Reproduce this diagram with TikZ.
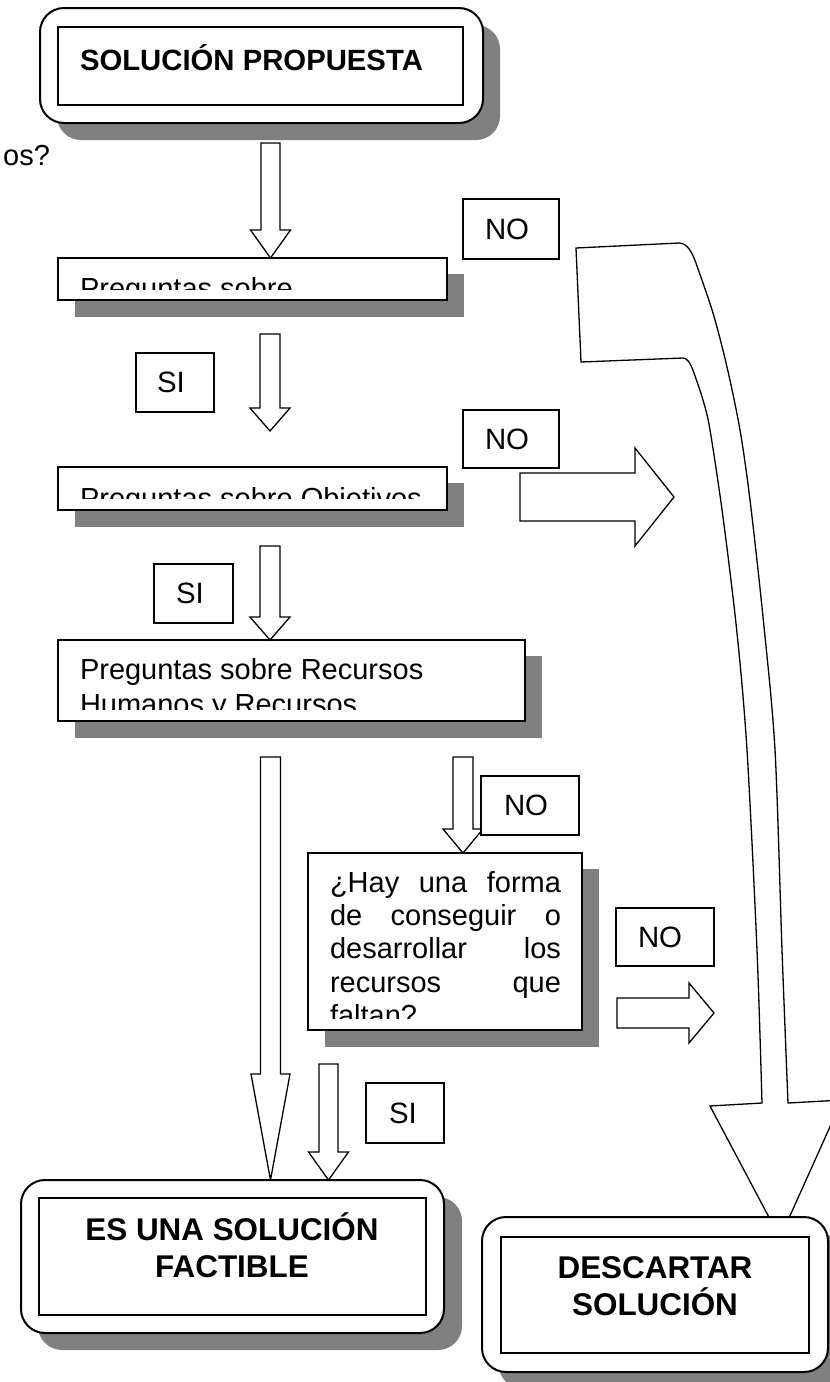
\documentclass[tikz,border=0pt]{standalone}
\usepackage{fontspec}
\setmainfont{Liberation Sans}
\usetikzlibrary{calc,backgrounds}
\definecolor{shadowgray}{HTML}{808080}
\tikzset{
  every node/.style={inner sep=0pt, outer sep=0pt},
  qbox/.style={draw=black, line width=1pt, fill=white, anchor=north west},
  lblbox/.style={draw=black, line width=0.8pt, fill=white, anchor=north west},
  outerbox/.style={draw=black, line width=1pt, fill=white, rounded corners=12pt, anchor=north west},
  innerbox/.style={draw=black, line width=1.2pt, anchor=north west},
  blockarrow/.style={draw=black, line width=0.65pt, fill=white, line join=miter},
  shadowfill/.style={fill=shadowgray},
  rtxt/.style={font=\fontsize{14.5}{16.7}\selectfont, anchor=base west},
  lbltxt/.style={font=\fontsize{14.7}{17}\selectfont, anchor=west},
  btxt/.style={font=\bfseries\fontsize{15.7}{18.5}\selectfont, anchor=base},
}
% down block arrow: cx, shaft half, head half, ytop, ybase, ytip
\newcommand\dnblock[6]{%
  \draw[blockarrow] ({#1-#2},#4) -- ({#1+#2},#4) -- ({#1+#2},#5) -- ({#1+#3},#5)
    -- (#1,#6) -- ({#1-#3},#5) -- ({#1-#2},#5) -- cycle;}
% right block arrow: cy, shaft half, head half, xleft, xbase, xtip
\newcommand\rtblock[6]{%
  \draw[blockarrow] (#4,{#1-#2}) -- (#5,{#1-#2}) -- (#5,{#1-#3}) -- (#6,#1)
    -- (#5,{#1+#3}) -- (#5,{#1+#2}) -- (#4,{#1+#2}) -- cycle;}

\begin{document}
\begin{tikzpicture}[x=0.5pt,y=-0.5pt]
\useasboundingbox (0,0) rectangle (830,1382);
\clip (0,0) rectangle (830,1382);

% ---------- top box
\node[outerbox, minimum width=443*0.5pt, minimum height=115*0.5pt] (top) at (40,8) {};
\node[innerbox, minimum width=405*0.5pt, minimum height=78*0.5pt] (topin) at (58,27) {};
\node[font=\bfseries\fontsize{14.65}{17}\selectfont, anchor=base west] (toptxt) at (80,70) {SOLUCIÓN PROPUESTA};

\node[rtxt, anchor=base east] (frag) at (50,165) {os?};

% ---------- question boxes
\node[qbox, minimum width=389*0.5pt, minimum height=42*0.5pt] (q1) at (58,258) {};
\begin{scope}
  \clip (q1.north west) rectangle ($(q1.south east)+(0,-11)$);
  \node[rtxt] (q1t) at (80,298) {Preguntas sobre};
\end{scope}

\node[qbox, minimum width=389*0.5pt, minimum height=43*0.5pt] (q2) at (58,467) {};
\begin{scope}
  \clip (q2.north west) rectangle ($(q2.south east)+(0,-12)$);
  \node[rtxt] (q2t) at (80,508) {Preguntas sobre Objetivos};
\end{scope}

\node[qbox, minimum width=467*0.5pt, minimum height=81*0.5pt] (q3) at (58,640) {};
\begin{scope}
  \clip (q3.north west) rectangle ($(q3.south east)+(0,-12)$);
  \node[rtxt] (q3a) at (80,679) {Preguntas sobre Recursos};
  \node[rtxt] (q3b) at (80,714) {Humanos y Recursos};
\end{scope}

\node[qbox, minimum width=274*0.5pt, minimum height=177*0.5pt] (q4) at (308,853) {};
\begin{scope}
  \clip (q4.north west) rectangle ($(q4.south east)+(0,-12)$);
  \node[rtxt] (q4a) at (330,892) {\hbox to 115.5pt{¿Hay\hfill una\hfill forma}};
  \node[rtxt] (q4b) at (330,925) {\hbox to 115.5pt{de\hfill conseguir\hfill o}};
  \node[rtxt] (q4c) at (330,958) {\hbox to 115.5pt{desarrollar\hfill los}};
  \node[rtxt] (q4d) at (330,992) {\hbox to 115.5pt{recursos\hfill que}};
  \node[rtxt] (q4e) at (330,1025) {faltan?};
\end{scope}

% ---------- shadows
\begin{pgfonlayer}{background}
  \fill[shadowfill, rounded corners=12pt] ($(top.north west)+(17,17)$) rectangle ($(top.south east)+(17,17)$);
  \foreach \b in {q1,q2,q3,q4}{
    \fill[shadowfill] ($(\b.north west)+(17,16)$) rectangle ($(\b.south east)+(17,17)$);
  }
\end{pgfonlayer}

% ---------- down block arrows
\dnblock{270.5}{9.5}{20}{143}{230}{258}
\dnblock{270}{10}{20}{334}{408}{431}
\dnblock{270}{10}{20}{546}{617}{640}
\dnblock{270.5}{10}{19.5}{757}{1074}{1180}
\dnblock{463}{10}{20}{757}{829}{853}
\dnblock{328.5}{9.5}{20}{1064}{1152}{1180}

% ---------- right block arrows
\rtblock{497}{24}{49}{520}{635}{674}
\rtblock{1013}{15}{30}{617}{689}{714}

% ---------- big curved arrow
\draw[blockarrow] (576,248) -- (679,243)
  .. controls (688,243) and (693,254) .. (697,266)
  -- plot[smooth] coordinates {(697,266) (713,313) (727,367) (740,430) (750,500) (763,617) (775,750) (782,950) (788,1103)}
  -- (842,1100) -- (780,1238) -- (710,1106) -- (762,1103)
  -- plot[smooth] coordinates {(762,1103) (757,950) (747,750) (737,633) (723,517) (710,430) (703,400) (694,373)}
  .. controls (690,362) and (687,358) .. (683,358)
  -- (581,362) -- cycle;

% ---------- label boxes
\node[lblbox, minimum width=96*0.5pt, minimum height=60*0.5pt] (no1) at (463,199) {};
\node[lbltxt] (no1t) at ([xshift=11pt]no1.west) {NO};
\node[lblbox, minimum width=78*0.5pt, minimum height=59*0.5pt] (si1) at (136,353) {};
\node[lbltxt] (si1t) at ([xshift=10.5pt]si1.west) {SI};
\node[lblbox, minimum width=96*0.5pt, minimum height=58*0.5pt] (no2) at (463,410) {};
\node[lbltxt] (no2t) at ([xshift=11pt]no2.west) {NO};
\node[lblbox, minimum width=79*0.5pt, minimum height=59*0.5pt] (si2) at (154,564) {};
\node[lbltxt] (si2t) at ([xshift=11pt]si2.west) {SI};
\node[lblbox, minimum width=98*0.5pt, minimum height=59*0.5pt] (no3) at (481,776) {};
\node[lbltxt] (no3t) at ([xshift=11.5pt]no3.west) {NO};
\node[lblbox, minimum width=98*0.5pt, minimum height=58*0.5pt] (no4) at (616,908) {};
\node[lbltxt] (no4t) at ([xshift=11pt]no4.west) {NO};
\node[lblbox, minimum width=78*0.5pt, minimum height=60*0.5pt] (si3) at (366,1083) {};
\node[lbltxt] (si3t) at ([xshift=11.5pt]si3.west) {SI};

% ---------- final boxes
\fill[shadowfill, rounded corners=12pt] (38,1197) rectangle (462,1350);
\node[outerbox, minimum width=423*0.5pt, minimum height=153*0.5pt] (fact) at (21,1180) {};
\node[innerbox, minimum width=387*0.5pt, minimum height=117*0.5pt] (factin) at (39,1198) {};
\node[btxt] (fact1) at (232,1240) {ES UNA SOLUCIÓN};
\node[btxt] (fact2) at (232,1277) {FACTIBLE};

\fill[shadowfill, rounded corners=12pt] (499,1234) rectangle (845,1389);
\node[outerbox, minimum width=346*0.5pt, minimum height=155*0.5pt] (desc) at (482,1217) {};
\node[innerbox, minimum width=308*0.5pt, minimum height=116*0.5pt] (descin) at (501,1237) {};
\node[btxt] (desc1) at (655,1278) {DESCARTAR};
\node[btxt] (desc2) at (655,1315) {SOLUCIÓN};
\end{tikzpicture}
\end{document}
